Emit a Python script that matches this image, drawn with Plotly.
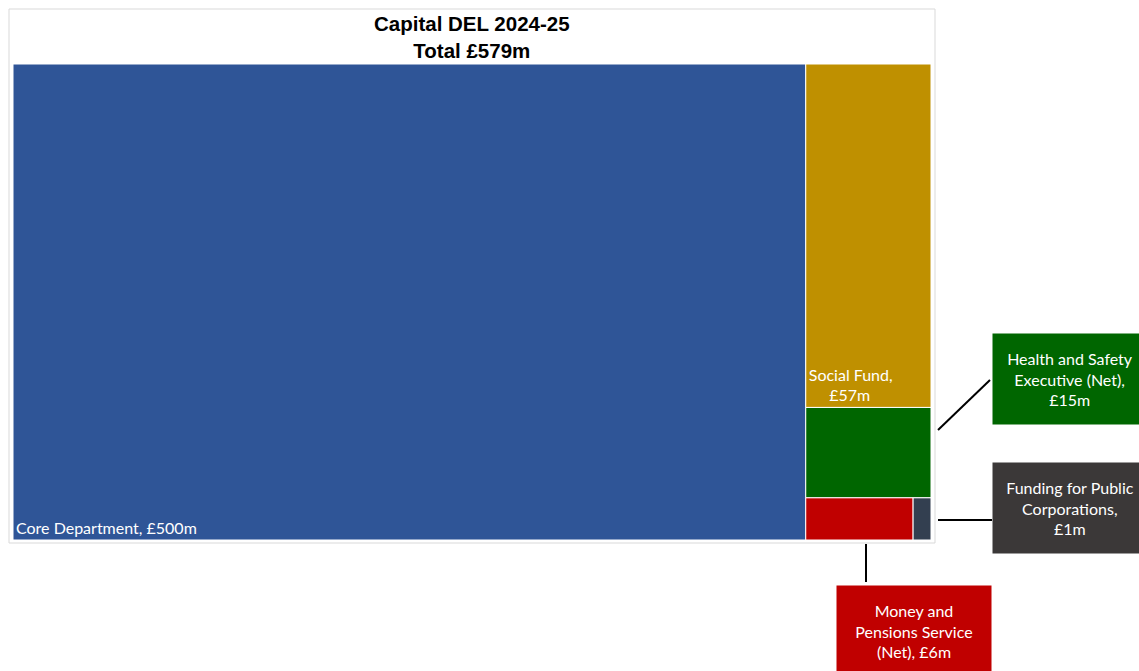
import plotly.graph_objects as go

W, H = 1139, 671

labels = ["Core Department", "Social Fund", "Health and Safety Executive (Net)",
          "Money and Pensions Service (Net)", "Funding for Public Corporations"]
values = [500, 57, 15, 6, 1]
inside_text = ["Core Department, £500m", "Social Fund,<br>&nbsp;&nbsp;&nbsp;&nbsp;&nbsp;£57m", "", "", ""]
colors = ["#2F5597", "#BF9000", "#006600", "#C00000", "#333F50"]

callout_text = {
    "Health and Safety Executive (Net)": "Health and Safety<br>Executive (Net),<br>£15m",
    "Funding for Public Corporations": "Funding for Public<br>Corporations,<br>£1m",
    "Money and Pensions Service (Net)": "Money and<br>Pensions Service<br>(Net), £6m",
}
callout_color = {
    "Health and Safety Executive (Net)": "#006600",
    "Funding for Public Corporations": "#3B3838",
    "Money and Pensions Service (Net)": "#C00000",
}

def px(x):
    return x / W

def py(y):
    return 1 - y / H

FONT = "Lato, Open Sans, sans-serif"

fig = go.Figure(go.Treemap(
    labels=labels,
    parents=[""] * len(labels),
    values=values,
    text=inside_text,
    textinfo="text",
    textposition="bottom left",
    textfont=dict(family=FONT, size=16, color="white"),
    marker=dict(colors=colors, line=dict(color="white", width=1), pad=dict(t=0, l=0, r=0, b=0)),
    tiling=dict(packing="squarify", squarifyratio=1, pad=0),
    pathbar=dict(visible=False),
    sort=False,
    hoverinfo="label+value",
    domain=dict(x=[px(13), px(931)], y=[py(540), py(64)]),
))

shapes = [
    dict(type="rect", xref="paper", yref="paper", x0=px(9), x1=px(935), y0=py(543), y1=py(9),
         line=dict(color="#D9D9D9", width=1), fillcolor="rgba(0,0,0,0)", layer="below"),
    # leader lines
    dict(type="line", xref="paper", yref="paper", x0=px(938), y0=py(430), x1=px(990), y1=py(380),
         line=dict(color="black", width=2)),
    dict(type="line", xref="paper", yref="paper", x0=px(938), y0=py(520), x1=px(992), y1=py(520),
         line=dict(color="black", width=2)),
    dict(type="line", xref="paper", yref="paper", x0=px(866), y0=py(544), x1=px(866), y1=py(582),
         line=dict(color="black", width=2)),
]

annotations = [
    dict(text="<b>Capital DEL 2024-25</b><br><b>Total £579m</b>", x=px(472), y=py(37),
         xref="paper", yref="paper", showarrow=False, xanchor="center", yanchor="middle",
         font=dict(family="Liberation Sans, Arial, sans-serif", size=20.5, color="black")),
]

callout_pos = {
    "Health and Safety Executive (Net)": (1070, 379),
    "Funding for Public Corporations": (1070, 508),
    "Money and Pensions Service (Net)": (914, 631),
}
for name, (cx, cy) in callout_pos.items():
    annotations.append(dict(
        text=callout_text[name], x=px(cx), y=py(cy), xref="paper", yref="paper",
        showarrow=False, xanchor="center", yanchor="middle",
        bgcolor=callout_color[name], width=152, height=88, borderpad=1,
        font=dict(family=FONT, size=16, color="white"), align="center",
    ))

fig.update_layout(
    width=W, height=H,
    margin=dict(l=0, r=0, t=0, b=0),
    paper_bgcolor="white",
    shapes=shapes,
    annotations=annotations,
    showlegend=False,
)

fig.write_html("out.html")
